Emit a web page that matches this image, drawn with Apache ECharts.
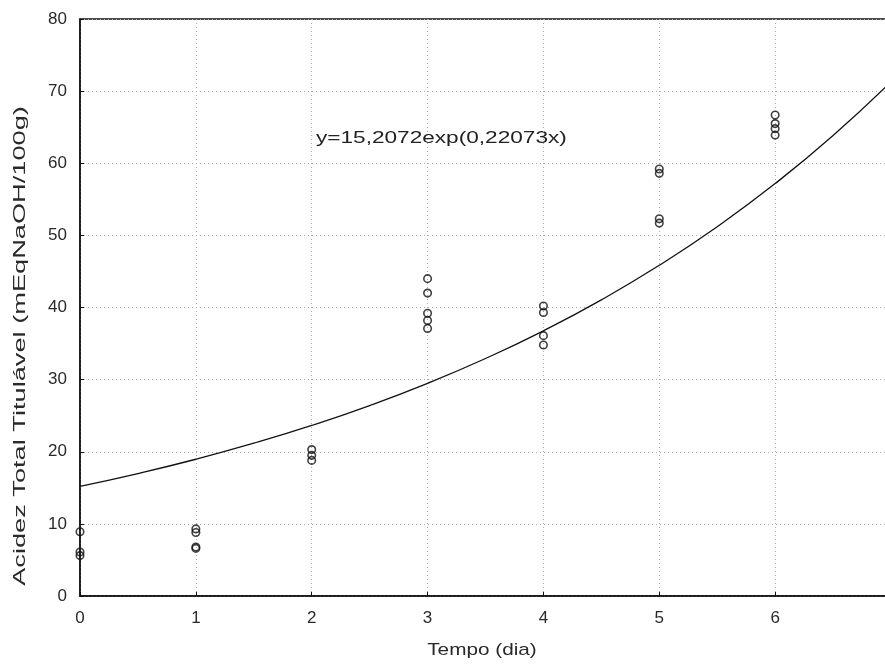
<!DOCTYPE html>
<html>
<head>
<meta charset="utf-8">
<script src="https://cdn.jsdelivr.net/npm/echarts@6/dist/echarts.min.js"></script>
<style>html,body{margin:0;padding:0;background:#fff}#c{width:885px;height:665px}</style>
</head>
<body>
<div id="c"></div>
<script>
// Observed data (x = Tempo in days, y = acidity)
var day0 = [8.9, 6.1, 5.6];
var day1 = [9.3, 8.8, 6.8, 6.6];
var day2 = [20.3, 19.5, 18.8];
var day3 = [44.0, 42.0, 39.2, 38.2, 37.1];
var day4 = [40.2, 39.3, 36.1, 34.8];
var day5 = [59.2, 58.6, 52.3, 51.7];
var day6 = [66.7, 65.5, 64.8, 63.9];
var obsDays = [0, 1, 2, 3, 4, 5, 6];
var obsValues = [day0, day1, day2, day3, day4, day5, day6];

// Fitted curve y=15,2072exp(0,22073x), values read at these x positions
var fitX = [0, 0.5, 1, 1.5, 2, 2.5, 3, 3.5, 4, 4.5, 5, 5.5, 6, 6.5, 7];
var fitY = [15.21, 16.98, 18.96, 21.18, 23.65, 26.41, 29.49, 32.93, 36.77, 41.06, 45.85, 51.20, 57.18, 63.85, 71.30];

var xTicks = ['0', '1', '2', '3', '4', '5', '6', '7'];
var yTicks = ['0', '10', '20', '30', '40', '50', '60', '70', '80'];
var equationText = 'y=15,2072exp(0,22073x)';
var xTitle = 'Tempo (dia)';
var yTitle = 'Acidez Total Titulável (mEqNaOH/100g)';

var scatterData = [];
obsDays.forEach(function (d, i) {
  obsValues[i].forEach(function (v) { scatterData.push([d, v]); });
});
var lineData = fitX.map(function (x, i) { return [x, fitY[i]]; });

var chart = echarts.init(document.getElementById('c'), null, {renderer: 'canvas'});
var font = '"Liberation Sans", Arial, sans-serif';
chart.setOption({
  animation: false,
  backgroundColor: '#fff',
  grid: {left: 80, top: 19, width: 811, height: 577, containLabel: false, outerBoundsMode: 'none',
    show: true, borderColor: '#111', borderWidth: 1.5, backgroundColor: 'transparent'},
  xAxis: {
    type: 'value', min: 0, max: 7, interval: 1,
    axisLine: {show: true, lineStyle: {color: '#111', width: 1.5}},
    axisTick: {show: true, inside: true, length: 4, lineStyle: {color: '#111'}},
    axisLabel: {fontFamily: font, fontSize: 17, color: '#2a2a2a', margin: 14,
      formatter: function (v) { return xTicks[Math.round(v)]; }},
    splitLine: {show: true, lineStyle: {color: '#aaa', type: [1, 3], width: 1}}
  },
  yAxis: {
    type: 'value', min: 0, max: 80, interval: 10,
    axisLine: {show: true, lineStyle: {color: '#111', width: 1.5}},
    axisTick: {show: true, inside: true, length: 4, lineStyle: {color: '#111'}},
    axisLabel: {fontFamily: font, fontSize: 17, color: '#2a2a2a', margin: 13,
      formatter: function (v) { return yTicks[Math.round(v / 10)]; }},
    splitLine: {show: true, lineStyle: {color: '#aaa', type: [1, 3], width: 1}}
  },
  graphic: [
    {type: 'text', x: 316, y: 138, scaleX: 1.33,
      style: {text: equationText, font: '17px ' + font, fill: '#222', align: 'left', verticalAlign: 'middle'}},
    {type: 'text', x: 482, y: 650, scaleX: 1.22,
      style: {text: xTitle, font: '17px ' + font, fill: '#2a2a2a', align: 'center', verticalAlign: 'middle'}},
    {type: 'text', x: 21, y: 346, rotation: Math.PI / 2, scaleX: 1.7,
      style: {text: yTitle, font: '16px ' + font, fill: '#2a2a2a', align: 'center', verticalAlign: 'middle'}}
  ],
  series: [
    {
      type: 'line', data: lineData, smooth: true, showSymbol: false, clip: true,
      lineStyle: {color: '#111', width: 1.3}, z: 3
    },
    {
      type: 'scatter', data: scatterData, symbol: 'circle', symbolSize: 7.5, clip: false,
      itemStyle: {color: 'rgba(255,255,255,0)', borderColor: '#111', borderWidth: 1.6}, z: 4
    }
  ]
});
</script>
</body>
</html>
